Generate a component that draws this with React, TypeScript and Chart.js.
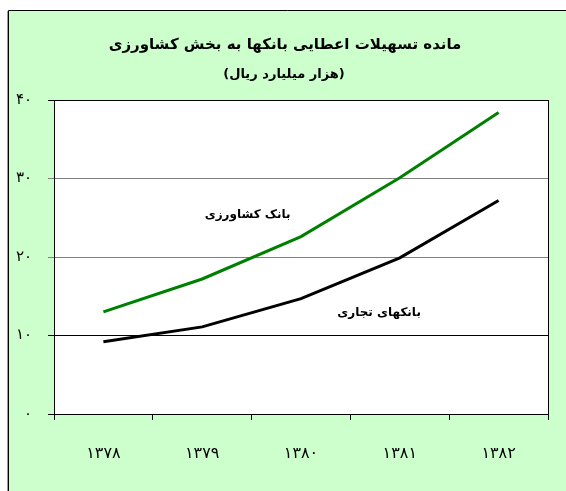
import React, { useEffect, useRef } from "react";
import { Chart, registerables } from "chart.js";

Chart.register(...registerables);

const categories = ["۱۳۷۸", "۱۳۷۹", "۱۳۸۰", "۱۳۸۱", "۱۳۸۲"];
const keshavarziValues = [13.0, 17.2, 22.6, 30.1, 38.4];
const tejariValues = [9.2, 11.1, 14.7, 19.9, 27.2];
const yTickLabels: Record<number, string> = { 0: "۰", 10: "۱۰", 20: "۲۰", 30: "۳۰", 40: "۴۰" };
const seriesNames = ["بانک کشاورزی", "بانکهای تجاری"];
const titleText = "مانده تسهیلات اعطایی بانکها به بخش کشاورزی";
const subtitleText = "(هزار میلیارد ریال)";
// in-plot series labels anchored in data units (category index, value)
const seriesLabelAnchors = [
  { x: 1.46, y: 25.4 },
  { x: 2.79, y: 12.9 },
];

const FONT = "'DejaVu Sans', sans-serif";
const W = 566;
const H = 491;

const framePlugin = {
  id: "frame",
  beforeDraw(chart: any) {
    const { ctx, chartArea } = chart;
    ctx.save();
    ctx.fillStyle = "#ffffff";
    ctx.fillRect(0, 0, W, H);
    ctx.fillStyle = "#CCFFCC";
    ctx.fillRect(8, 10, W - 8, H - 10);
    ctx.strokeStyle = "#000000";
    ctx.lineWidth = 1;
    ctx.beginPath();
    ctx.moveTo(8.5, H);
    ctx.lineTo(8.5, 10.5);
    ctx.lineTo(W, 10.5);
    ctx.stroke();
    ctx.strokeStyle = "#9a9a9a";
    ctx.beginPath();
    ctx.moveTo(7.5, H);
    ctx.lineTo(7.5, 11);
    ctx.stroke();
    ctx.fillStyle = "#ffffff";
    ctx.fillRect(chartArea.left, chartArea.top, chartArea.right - chartArea.left, chartArea.bottom - chartArea.top);
    // title and subtitle
    ctx.fillStyle = "#000000";
    ctx.textAlign = "center";
    ctx.textBaseline = "middle";
    ctx.direction = "rtl";
    ctx.font = `bold 15px ${FONT}`;
    ctx.fillText(titleText, 285, 45);
    ctx.font = `bold 13px ${FONT}`;
    ctx.fillText(subtitleText, 284, 75);
    ctx.restore();
  },
  beforeDatasetsDraw(chart: any) {
    const { ctx, chartArea } = chart;
    ctx.save();
    ctx.strokeStyle = "#000000";
    ctx.lineWidth = 1;
    ctx.beginPath();
    ctx.moveTo(Math.round(chartArea.right) + 0.5, chartArea.top);
    ctx.lineTo(Math.round(chartArea.right) + 0.5, chartArea.bottom);
    ctx.stroke();
    ctx.restore();
  },
  afterDatasetsDraw(chart: any) {
    const { ctx, scales } = chart;
    ctx.save();
    ctx.fillStyle = "#000000";
    ctx.font = `bold 12px ${FONT}`;
    ctx.textAlign = "center";
    ctx.textBaseline = "middle";
    ctx.direction = "rtl";
    seriesLabelAnchors.forEach((a, i) => {
      const px = scales.x.getPixelForValue(a.x);
      const py = scales.y.getPixelForValue(a.y);
      ctx.fillText(seriesNames[i], px, py);
    });
    ctx.restore();
  },
};

export default function App() {
  const ref = useRef<HTMLCanvasElement | null>(null);
  useEffect(() => {
    if (!ref.current) return;
    const gridColor = (c: any) => {
      const v = c.tick ? c.tick.value : 0;
      return v === 20 || v === 30 ? "#808080" : "#000000";
    };
    const chart = new Chart(ref.current, {
      type: "line",
      data: {
        labels: categories,
        datasets: [
          {
            label: seriesNames[0],
            data: keshavarziValues,
            borderColor: "#008000",
            backgroundColor: "#008000",
            borderWidth: 3,
            pointRadius: 0,
            tension: 0,
          },
          {
            label: seriesNames[1],
            data: tejariValues,
            borderColor: "#000000",
            backgroundColor: "#000000",
            borderWidth: 3,
            pointRadius: 0,
            tension: 0,
          },
        ],
      },
      options: {
        responsive: false,
        animation: false,
        devicePixelRatio: 1,
        layout: { padding: { left: 0, right: 18, top: 100, bottom: 0 } },
        plugins: {
          legend: { display: false },
          tooltip: { enabled: false },
          title: { display: false },
          subtitle: { display: false },
        },
        scales: {
          x: {
            offset: true,
            grid: {
              offset: true,
              drawOnChartArea: false,
              drawTicks: true,
              tickLength: 6,
              color: "#000",
            },
            border: { display: true, color: "#000", width: 1 },
            ticks: {
              color: "#000",
              font: { family: FONT, size: 16 },
              padding: 24,
              maxRotation: 0,
            },
            afterFit(scale: any) {
              scale.height = H - 414;
            },
          },
          y: {
            min: 0,
            max: 40,
            grid: {
              color: gridColor,
              tickLength: 6,
              lineWidth: 1,
            },
            border: { display: true, color: "#000", width: 1 },
            ticks: {
              stepSize: 10,
              color: "#000",
              font: { family: FONT, size: 15 },
              padding: 16,
              callback: (v: any) => yTickLabels[v as number] ?? "",
            },
            afterFit(scale: any) {
              scale.width = 54;
            },
          },
        },
      },
      plugins: [framePlugin],
    });
    return () => chart.destroy();
  }, []);
  return (
    <canvas
      ref={ref}
      width={W}
      height={H}
      style={{ position: "fixed", left: 0, top: 0, width: W, height: H }}
    />
  );
}
